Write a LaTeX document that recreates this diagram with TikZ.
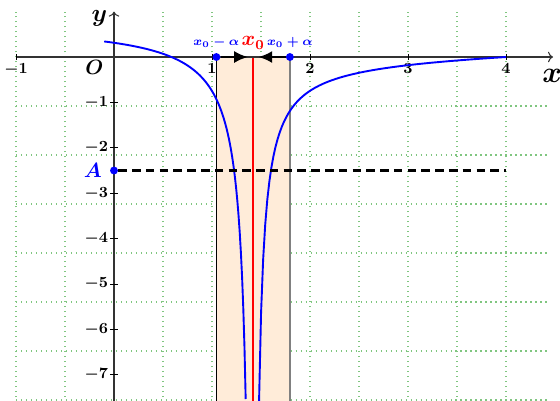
\documentclass[tikz,border=0pt]{standalone}
\usepackage{amsmath}
\usepackage{amssymb}
\usepackage{xcolor}
\usepackage{tikz}
\usetikzlibrary{positioning}
\usetikzlibrary{arrows.meta}

\begin{document}
\begin{tikzpicture}[x=2cm, y=0.9265cm,
		gridline/.style={green!55!black!50, line width=0.8pt, dash pattern=on 0.8pt off 2.1pt},
		axisline/.style={black!80, line width=0.6pt, ->},
		ticklbl/.style={font=\small\boldmath, inner sep=1pt},
		bluedot/.style={circle, fill=blue, inner sep=0pt, minimum size=4.6pt},
		fcurve/.style={blue, line width=1.1pt},
		push/.style={line width=1.5pt, -{Latex[length=8pt,width=7pt]}},
		lbl/.style={blue, font=\scriptsize\boldmath, anchor=base}
	]
	\useasboundingbox (-1.1633,-7.555) rectangle (4.551,1.256);
	\clip (-1.1633,-7.555) rectangle (4.551,1.256);

	% grid
	\draw[gridline] (-1,-7.6) grid (4.45,1);

	% band ]x0-alpha ; x0+alpha[
	\fill[orange!15] (1.045,0) rectangle (1.795,-7.6);
	\draw[line width=0.8pt] (1.045,0) -- (1.045,-7.6);
	\draw[black!50, line width=0.8pt] (1.795,0) -- (1.795,-7.6);
	\draw[red, line width=1.2pt] (1.42,0) -- (1.42,-7.6);

	% axes
	\draw[axisline] (-1,0) -- (4.48,0);
	\draw[axisline] (0,-7.6) -- (0,1);
	\node[font=\LARGE\boldmath, inner sep=1pt] (xlbl) at (4.47,-0.42) {$x$};
	\node[font=\Large\boldmath, inner sep=0pt] (ylbl) at (-0.15,0.85) {$y$};
	\node[font=\large\boldmath] (orig) at (-0.2,-0.22) {$O$};
	\foreach \i in {-1,1,2,3,4} {
		\draw (\i,-0.06) -- (\i,0.06);
		\node[ticklbl, below] (tx\i) at (\i,-0.1) {$\i$};
	}
	\foreach \j in {-1,-2,-3,-4,-5,-6,-7} {
		\draw (-0.04,\j) -- (0.04,\j);
		\node[ticklbl, left] (ty\j) at (-0.04,\j) {$\j$};
	}

	% curve of f
	\draw[fcurve, domain=-0.1:1.3445, samples=120] plot (\x, {0.76 - 0.634/(1.42-\x)});
	\draw[fcurve, domain=1.4795:4, samples=120] plot (\x, {0.455*((\x-1.42)/6.66 - 1/(\x-1.42))});

	% level A
	\node[bluedot] (A) at (0,-2.5) {};
	\node[left=1pt of A, blue, font=\large\boldmath] (lA) {$A$};
	\coordinate (aEnd) at (4,-2.5);
	\draw[line width=1.2pt, dash pattern=on 5pt off 3pt] (A) -- (aEnd);

	% x0 and its neighbourhood
	\coordinate (x0) at (1.42,0);
	\coordinate (stopL) at ([xshift=-3pt]x0);
	\coordinate (stopR) at ([xshift=3pt]x0);
	\node[bluedot] (xa) at (1.045,0) {};
	\node[bluedot] (xb) at (1.795,0) {};
	\draw[push] (xa) -- (stopL);
	\draw[push] (xb) -- (stopR);
	\node[lbl] (la) at ([yshift=6.4pt]xa) {$x_0-\alpha$};
	\node[lbl] (lb) at ([yshift=6.4pt]xb) {$x_0+\alpha$};
	\node[lbl, red, font=\large\boldmath] (lx0) at ([yshift=6.4pt]x0) {$x_0$};

\end{tikzpicture}
\end{document}
